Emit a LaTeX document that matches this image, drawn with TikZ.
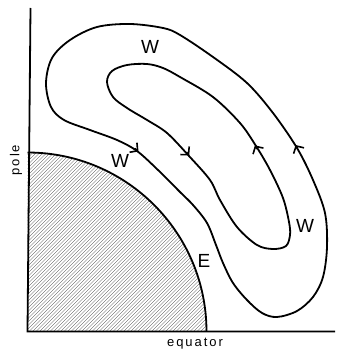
\documentclass[tikz,border=0pt]{standalone}
\usepackage{fontspec}
\setmainfont{Liberation Sans}
\usetikzlibrary{arrows.meta}
\tikzset{
  curve/.style={line width=1.8pt, line join=round},
  axis/.style={line width=1.8pt},
  hatchline/.style={line width=0.3pt, black!85},
  tipmark/.style={line width=1.8pt, -{Straight Barb[length=5.5pt,width=12pt,line width=1.6pt]}},
  letter/.style={font=\fontsize{19}{21}\selectfont, inner sep=0pt},
  axlabel/.style={font=\fontsize{13}{15}\selectfont\addfontfeature{LetterSpace=15}, inner sep=0pt}
}
\begin{document}
\begin{tikzpicture}[x=1pt,y=1pt]
\useasboundingbox (0,0) rectangle (342,354);
% hatched quarter disc
\begin{scope}
  \clip (27.5,22.5) rectangle (210,205);
  \clip (27.5,22.5) circle[radius=179];
  \foreach \c in {0,3.5,...,370} {
    \draw[hatchline] (\c-160,22.5) -- (\c+30,212.5);
  }
\end{scope}
\draw[curve] (27.5,201.5) arc[start angle=90,end angle=0,radius=179];
% axes
\coordinate (top) at (30.5,346);
\coordinate (origin) at (27.5,22.5);
\coordinate (xend) at (335,22.5);
\draw[axis] (top) -- (origin) -- (xend);
% outer loop
\draw[curve] plot[smooth cycle, tension=0.55] coordinates {
 (130,330) (163,326) (180,319) (213,297) (247,271) (273,241) (297,206)
 (313,174) (325,141) (327,107) (323,77) (313,57) (297,43) (277,37)
 (262,41) (247,54) (233,71) (223,91) (216,109) (207,131) (193,149)
 (180,162) (158,184) (137,203) (117,214) (90,224) (64,234) (51,247)
 (46,271) (52,296) (70,314) (97,327)};
% inner loop
\draw[curve] plot[smooth cycle, tension=0.55] coordinates {
 (127,289) (147,290) (163,286) (180,277) (213,257) (240,231) (256,208)
 (270,184) (283,156) (289,132) (290,119) (286,108) (273,105) (257,109)
 (237,127) (220,154) (210,174) (189,198) (167,221) (147,234) (127,246)
 (113,257) (107,272) (112,283)};
% arrowheads
\coordinate (a1s) at (134.6,205.5); \coordinate (a1) at (138.5,202.5);
\coordinate (a2s) at (186.3,201.8); \coordinate (a2) at (189.2,198.6);
\coordinate (a3s) at (257.0,205.0); \coordinate (a3) at (254.9,208.6);
\coordinate (a4s) at (297.6,205.4); \coordinate (a4) at (295.6,209.0);
\draw[tipmark] (a1s) -- (a1);
\draw[tipmark] (a2s) -- (a2);
\draw[tipmark] (a3s) -- (a3);
\draw[tipmark] (a4s) -- (a4);
% labels
\node[letter] (w1) at (150,307) {W};
\node[letter] (w2) at (120,193) {W};
\node[letter] (w3) at (305,128) {W};
\node[letter] (e1) at (204,93) {E};
\node[axlabel, rotate=90] (pole) at (16,194) {pole};
\node[axlabel] (eq) at (195,10) {equator};
\end{tikzpicture}
\end{document}
